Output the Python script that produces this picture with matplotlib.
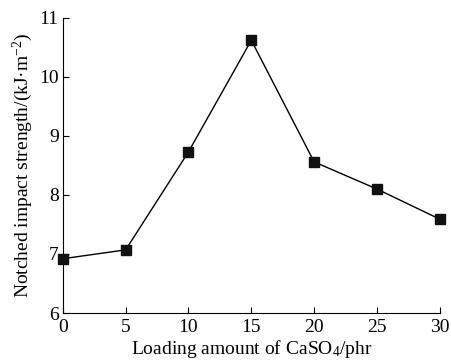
import matplotlib
matplotlib.use('Agg')
import matplotlib.pyplot as plt

plt.rcParams['font.family'] = 'Liberation Serif'
plt.rcParams['mathtext.fontset'] = 'custom'
plt.rcParams['mathtext.rm'] = 'Liberation Serif'
plt.rcParams['mathtext.it'] = 'Liberation Serif:italic'

loading = [0, 5, 10, 15, 20, 25, 30]
strength = [6.92, 7.07, 8.73, 10.62, 8.56, 8.10, 7.59]

fig = plt.figure(figsize=(4.52, 3.64), dpi=100)
ax = fig.add_axes([0.139, 0.140, 0.834, 0.811])

ax.plot(loading, strength, color='black', linewidth=1.0, clip_on=False, zorder=3,
        marker='s', markersize=6.5, markerfacecolor='#111111', markeredgecolor='#111111')

ax.set_xlim(0, 30)
ax.set_ylim(6, 11)
ax.set_xticks([0, 5, 10, 15, 20, 25, 30])
ax.set_yticks([6, 7, 8, 9, 10, 11])
ax.spines['top'].set_visible(False)
ax.spines['right'].set_visible(False)
for s in ['left', 'bottom']:
    ax.spines[s].set_linewidth(0.8)
ax.tick_params(direction='in', length=4.5, width=0.8, labelsize=14, pad=3)
ax.tick_params(axis='x', pad=4)
ax.set_xlabel('Loading amount of CaSO$_4$/phr', fontsize=14, labelpad=2)
ax.set_ylabel('Notched impact strength/(kJ·m$^{-2}$)', fontsize=14, labelpad=3)

fig.savefig('out.png', dpi=100)
